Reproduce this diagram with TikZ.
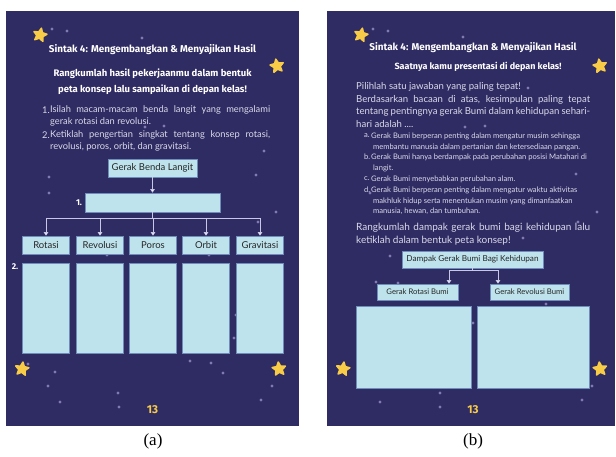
\documentclass[tikz,border=0pt]{standalone}
\usepackage{fontspec}
\setmainfont{Lato}
\newfontfamily\headfont{Fira Sans}
\newfontfamily\capfont{Liberation Serif}
\usetikzlibrary{shapes.geometric,arrows.meta}

\definecolor{nightsky}{RGB}{47,43,99}
\definecolor{paleblue}{RGB}{190,227,236}
\definecolor{boxline}{RGB}{112,140,186}
\definecolor{stargold}{RGB}{248,204,70}
\definecolor{dotgrey}{RGB}{128,124,176}
\definecolor{softtext}{RGB}{218,218,234}
\definecolor{linkline}{RGB}{200,200,230}

\tikzset{
  page/.style={fill=nightsky, draw=none},
  kotak/.style={draw=boxline, line width=0.6pt, fill=paleblue, inner sep=0pt, text=black!85, font=\fontsize{9.5}{11}\selectfont},
  bintang/.style={star, star points=5, star point ratio=2.1, fill=stargold, draw=stargold, line join=round, line width=1.5pt, minimum size=14pt, inner sep=0pt},
  titik/.style={fill=dotgrey},
  judul/.style={text=white, font=\headfont\bfseries\fontsize{9.9}{11}\selectfont},
  tugas/.style={text=white, font=\headfont\bfseries\fontsize{9.5}{11}\selectfont},
  isi/.style={text=softtext, font=\fontsize{9.3}{11}\selectfont, anchor=west, inner sep=0pt},
  opsi/.style={text=softtext, font=\fontsize{7.6}{9}\selectfont, anchor=west, inner sep=0pt},
  hal/.style={text=stargold, font=\headfont\bfseries\fontsize{11.5}{12}\selectfont},
  nomor/.style={text=white, font=\headfont\bfseries\fontsize{8.5}{9}\selectfont},
  garis/.style={draw=linkline, line width=0.8pt},
  panah/.style={garis, -{Triangle[width=4.5pt,length=3.5pt,fill=white]}},
  sub/.style={font=\capfont\fontsize{17}{18}\selectfont},
}

\begin{document}
\begin{tikzpicture}[x=1pt, y=-1pt]
  \useasboundingbox (0,0) rectangle (616,457);

  % halaman (a)
  \begin{scope}
    \fill[page] (6,11) rectangle (298.5,426);
    \foreach \x/\y in {52/29, 67/31, 142/38, 145/127, 164/126, 264/151, 49/177, 49/193,
        256/175, 276/212, 258/222, 107/255, 209/255, 236/315, 234/338, 28/364, 55/372,
        48/386, 60/402, 118/393, 119/407, 190/361, 211/363, 223/373, 272/386, 261/400}
      \fill[titik] (\x,\y) circle (1.6);
    \node[bintang, rotate=-12] (sa1) at (40,35) {};
    \node[bintang, rotate=10] (sa2) at (277,66) {};
    \node[bintang, rotate=-8] (sa3) at (22,369) {};
    \node[bintang, rotate=6] (sa4) at (279,369) {};

    \node[judul] (ja) at (152.5,50) {Sintak 4: Mengembangkan \& Menyajikan Hasil};
    \node[tugas] (ta1) at (152.5,74) {Rangkumlah hasil pekerjaanmu dalam bentuk};
    \node[tugas] (ta2) at (152.5,90) {peta konsep lalu sampaikan di depan kelas!};

    \node[isi] (n1) at (42,110) {1.};
    \node[isi] (l1) at (50,110) {\makebox[220pt][s]{Isilah macam-macam benda langit yang mengalami}};
    \node[isi] (l2) at (50,122) {gerak rotasi dan revolusi.};
    \node[isi] (n2) at (42,135) {2.};
    \node[isi] (l3) at (50,135) {\makebox[220pt][s]{Ketiklah pengertian singkat tentang konsep rotasi,}};
    \node[isi] (l4) at (50,147) {revolusi, poros, orbit, dan gravitasi.};

    \node[kotak, minimum width=89pt, minimum height=18pt] (gbl) at (152.5,168) {Gerak Benda Langit};
    \node[kotak, minimum width=135pt, minimum height=19pt] (k1) at (152.5,202.5) {};
    \node[nomor] (no1) at (79,203) {1.};
    \node[nomor] (no2) at (15,267) {2.};
    \foreach \nama/\teks/\x in {rotasi/Rotasi/46, revolusi/Revolusi/100, poros/Poros/153,
        orbit/Orbit/206, gravitasi/Gravitasi/260} {
      \node[kotak, minimum width=46.5pt, minimum height=18pt] (\nama) at (\x,245) {\teks};
      \node[kotak, minimum width=46.5pt, minimum height=90pt] (\nama-isi) at (\x,308) {};
    }
    \coordinate (cabang) at (152.5,218);
    \draw[panah] (gbl) -- (k1);
    \draw[garis] (k1) -- (cabang);
    \draw[garis] (rotasi.north |- cabang) -- (gravitasi.north |- cabang);
    \foreach \nama in {rotasi,revolusi,poros,orbit,gravitasi}
      \draw[panah] (\nama.north |- cabang) -- (\nama.north);

    \node[hal] (pa) at (152.5,410) {13};
    \node[sub] (capa) at (153,441) {(a)};
  \end{scope}

  % halaman (b)
  \begin{scope}
    \fill[page] (327,11) rectangle (615,426);
    \foreach \x/\y in {373/29, 388/31, 463/37, 528/88, 465/127, 485/126, 576/174, 370/193,
        597/212, 578/222, 523/238, 390/256, 376/282, 398/283, 473/323, 546/304, 440/393,
        380/402, 440/407, 582/400, 592/386}
      \fill[titik] (\x,\y) circle (1.6);
    \node[bintang, rotate=-12] (sb1) at (361,35) {};
    \node[bintang, rotate=10] (sb2) at (600,66) {};
    \node[bintang, rotate=-8] (sb3) at (343,369) {};
    \node[bintang, rotate=6] (sb4) at (600,369) {};

    \node[judul] (jb) at (473,48) {Sintak 4: Mengembangkan \& Menyajikan Hasil};
    \node[tugas, font=\headfont\bfseries\fontsize{9}{11}\selectfont] (tb) at (478,67) {Saatnya kamu presentasi di depan kelas!};

    \begin{scope}[isi/.append style={font=\fontsize{9.6}{11}\selectfont}]
      \node[isi] (p1) at (356,87) {Pilihlah satu jawaban yang paling tepat!};
      \node[isi] (p2) at (356,99.5) {\makebox[234pt][s]{Berdasarkan bacaan di atas, kesimpulan paling tepat}};
      \node[isi] (p3) at (356,112) {\makebox[234pt][s]{tentang pentingnya gerak Bumi dalam kehidupan sehari-}};
      \node[isi] (p4) at (356,124) {hari adalah ....};
    \end{scope}

    \node[opsi] (oa) at (364,136) {a.};
    \node[opsi] (oa1) at (371,136) {Gerak Bumi berperan penting dalam mengatur musim sehingga};
    \node[opsi] (oa2) at (373,147) {membantu manusia dalam pertanian dan ketersediaan pangan.};
    \node[opsi] (ob) at (364,157) {b.};
    \node[opsi] (ob1) at (371,157) {Gerak Bumi hanya berdampak pada perubahan posisi Matahari di};
    \node[opsi] (ob2) at (373,168) {langit.};
    \node[opsi] (oc) at (364,179) {c.};
    \node[opsi] (oc1) at (371,179) {Gerak Bumi menyebabkan perubahan alam.};
    \node[opsi] (od) at (364,190) {d.};
    \node[opsi] (od1) at (371,190) {Gerak Bumi berperan penting dalam mengatur waktu aktivitas};
    \node[opsi] (od2) at (373,201) {makhluk hidup serta menentukan musim yang dimanfaatkan};
    \node[opsi] (od3) at (373,211) {manusia, hewan, dan tumbuhan.};

    \node[isi, font=\fontsize{10}{12}\selectfont] (r1) at (356,228) {\makebox[234pt][s]{Rangkumlah dampak gerak bumi bagi kehidupan lalu}};
    \node[isi, font=\fontsize{10}{12}\selectfont] (r2) at (356,241) {ketiklah dalam bentuk peta konsep!};

    \node[kotak, minimum width=141pt, minimum height=17pt, font=\fontsize{8.2}{9}\selectfont] (dampak) at (472.5,259.5) {Dampak Gerak Bumi Bagi Kehidupan};
    \node[kotak, minimum width=81pt, minimum height=16pt, font=\fontsize{7.7}{9}\selectfont] (grotasi) at (417.5,292) {Gerak Rotasi Bumi};
    \node[kotak, minimum width=79pt, minimum height=16pt, font=\fontsize{7.7}{9}\selectfont] (grevolusi) at (529.5,292) {Gerak Revolusi Bumi};
    \node[kotak, minimum width=115pt, minimum height=82pt] (isirotasi) at (413.5,347) {};
    \node[kotak, minimum width=112pt, minimum height=82pt] (isirevolusi) at (533,347) {};

    \coordinate (kiri) at (449,270.5);
    \coordinate (kanan) at (498,270.5);
    \draw[garis] (dampak.south) -- (dampak.south |- kiri);
    \draw[garis] (kiri) -- (kanan);
    \draw[panah] (kiri) -- (kiri |- grotasi.north);
    \draw[panah] (kanan) -- (kanan |- grevolusi.north);

    \node[hal] (pb) at (473,410) {13};
    \node[sub] (capb) at (473,441) {(b)};
  \end{scope}
\end{tikzpicture}
\end{document}
